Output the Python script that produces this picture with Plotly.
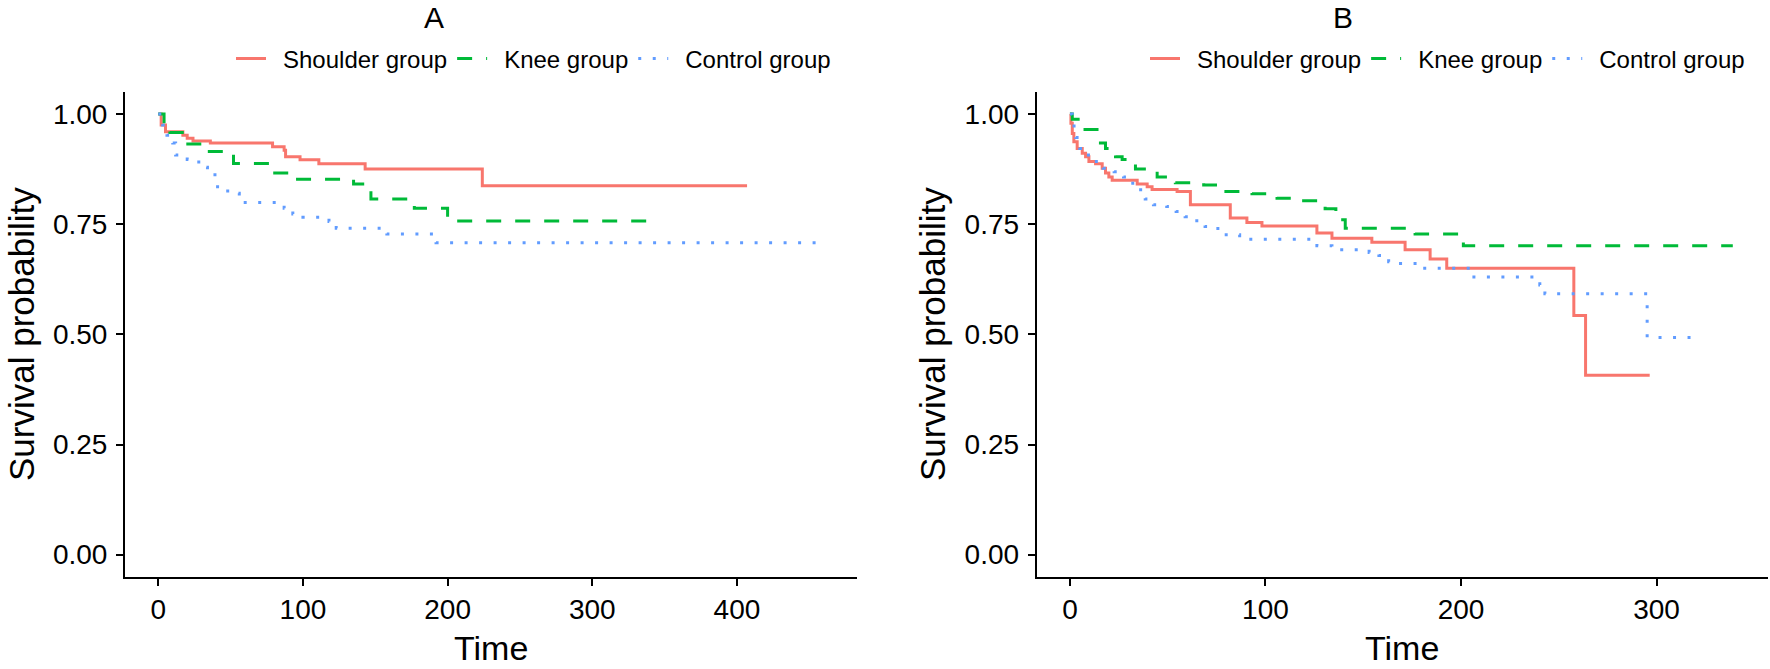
import plotly.graph_objects as go

W, H = 1770, 669

# ---------------- Panel A data ----------------
a_shoulder_time = [0, 2, 5, 17, 20, 24, 36, 79, 87, 88, 98, 111, 143, 224, 407]
a_shoulder_surv = [1.0, 0.975, 0.960, 0.952, 0.945, 0.939, 0.934, 0.926, 0.918, 0.903, 0.896, 0.887, 0.875, 0.837, 0.837]

a_knee_time = [0, 4, 8, 19, 33, 52, 79, 95, 135, 147, 177, 200, 338]
a_knee_surv = [1.0, 0.979, 0.958, 0.932, 0.915, 0.888, 0.866, 0.852, 0.841, 0.807, 0.786, 0.757, 0.757]

a_control_time = [0, 3, 6, 10, 12, 20, 28, 34, 41, 48, 56, 87, 93, 100, 118, 123, 158, 192, 455]
a_control_surv = [1.0, 0.975, 0.952, 0.934, 0.907, 0.897, 0.879, 0.862, 0.835, 0.820, 0.799, 0.786, 0.773, 0.766, 0.756, 0.741, 0.728, 0.708, 0.708]

# ---------------- Panel B data ----------------
b_shoulder_time = [0, 0.5, 1.2, 2, 3.7, 6.3, 8, 9.7, 13.1, 16.5, 18.2, 19.9, 21.6, 34.4, 39.5, 42, 54.8,
                   61.6, 82, 90.5, 98.2, 126.3, 134, 154.4, 171.4, 184.2, 192.7, 257.7, 263.7, 296.5]
b_shoulder_surv = [1.0, 0.979, 0.956, 0.937, 0.922, 0.911, 0.903, 0.892, 0.887, 0.877, 0.866, 0.857, 0.850,
                   0.841, 0.835, 0.829, 0.824, 0.794, 0.764, 0.754, 0.746, 0.730, 0.718, 0.709, 0.692, 0.671,
                   0.650, 0.543, 0.407, 0.407]

b_knee_time = [0, 1.2, 6.3, 15.6, 18.2, 23.3, 26.7, 33.5, 44.6, 53.9, 68.4, 78.6, 93.1, 105.9, 118.6,
               130.5, 136, 140.8, 176.5, 201.2, 339]
b_knee_surv = [1.0, 0.988, 0.965, 0.934, 0.922, 0.903, 0.897, 0.875, 0.857, 0.844, 0.839, 0.824, 0.819,
               0.809, 0.803, 0.785, 0.760, 0.741, 0.728, 0.701, 0.701]

b_control_time = [0, 1.2, 3, 5, 8.5, 12, 17, 22.6, 27.4, 30.8, 34.2, 38.5, 42.7, 49.5, 54.3, 58.9, 64,
                  69.1, 74.2, 79, 86.8, 126.3, 134, 153, 158, 163, 168, 178, 206.6, 240.3, 242.9, 295.2, 317.8]
b_control_surv = [1.0, 0.973, 0.947, 0.922, 0.907, 0.892, 0.877, 0.869, 0.857, 0.843, 0.828, 0.807, 0.794,
                  0.790, 0.779, 0.767, 0.758, 0.745, 0.740, 0.726, 0.716, 0.701, 0.692, 0.686, 0.679, 0.665,
                  0.661, 0.650, 0.630, 0.612, 0.592, 0.493, 0.493]

group_names = ["Shoulder group", "Knee group", "Control group"]
group_colors = ["#F8766D", "#00BA38", "#619CFF"]
group_dashes = ["solid", "15px,14px", "3px,11.5px"]

y_ticks = [0, 0.25, 0.5, 0.75, 1.0]
y_ticktext = ["0.00", "0.25", "0.50", "0.75", "1.00"]
a_xticks = [0, 100, 200, 300, 400]
b_xticks = [0, 100, 200, 300]

FONT = "Liberation Sans, Arial, sans-serif"

fig = go.Figure()

panels = [
    ("x", "y", "legend", [(a_shoulder_time, a_shoulder_surv), (a_knee_time, a_knee_surv), (a_control_time, a_control_surv)]),
    ("x2", "y2", "legend2", [(b_shoulder_time, b_shoulder_surv), (b_knee_time, b_knee_surv), (b_control_time, b_control_surv)]),
]
for xa, ya, lg, series in panels:
    for (t, s), name, col, dash in zip(series, group_names, group_colors, group_dashes):
        fig.add_trace(go.Scatter(
            x=t, y=s, mode="lines", name="\u2002" + name, xaxis=xa, yaxis=ya, legend=lg,
            line=dict(color=col, width=3, dash=dash, shape="hv"),
            hoverinfo="skip",
        ))

ydom = [1 - 576.7 / H, 1 - 92 / H]
axis_common = dict(
    showline=True, linecolor="black", linewidth=2, ticks="outside", ticklen=7, tickwidth=2,
    tickcolor="black", showgrid=False, zeroline=False, tickfont=dict(family=FONT, size=28, color="black"),
)

fig.update_layout(
    width=W, height=H,
    margin=dict(l=0, r=0, t=0, b=0),
    paper_bgcolor="white", plot_bgcolor="white",
    font=dict(family=FONT, color="black"),
    xaxis=dict(domain=[125 / W, 857 / W], range=[-23, 483], tickvals=a_xticks, anchor="y", **axis_common),
    yaxis=dict(domain=ydom, range=[-0.05, 1.05], tickvals=y_ticks, ticktext=y_ticktext, anchor="x",
               ticklabelstandoff=3, **axis_common),
    xaxis2=dict(domain=[1036.7 / W, 1768 / W], range=[-17, 357], tickvals=b_xticks, anchor="y2", **axis_common),
    yaxis2=dict(domain=ydom, range=[-0.05, 1.05], tickvals=y_ticks, ticktext=y_ticktext, anchor="x2",
                ticklabelstandoff=3, **axis_common),
    legend=dict(orientation="h", x=836 / W, xanchor="right", y=1 - 59 / H, yanchor="middle",
                font=dict(family=FONT, size=24, color="black"), bgcolor="rgba(0,0,0,0)", itemwidth=30),
    legend2=dict(orientation="h", x=1750 / W, xanchor="right", y=1 - 59 / H, yanchor="middle",
                 font=dict(family=FONT, size=24, color="black"), bgcolor="rgba(0,0,0,0)", itemwidth=30),
    showlegend=True,
)

annos = [
    dict(text="A", x=434 / W, y=1 - 17 / H, size=30, angle=0),
    dict(text="B", x=1343 / W, y=1 - 17 / H, size=30, angle=0),
    dict(text="Time", x=491 / W, y=1 - 648 / H, size=34, angle=0),
    dict(text="Time", x=1402 / W, y=1 - 648 / H, size=34, angle=0),
    dict(text="Survival probability", x=21 / W, y=1 - 334 / H, size=35, angle=-90),
    dict(text="Survival probability", x=932 / W, y=1 - 334 / H, size=35, angle=-90),
]
for a in annos:
    fig.add_annotation(text=a["text"], x=a["x"], y=a["y"], xref="paper", yref="paper",
                       xanchor="center", yanchor="middle", showarrow=False, textangle=a["angle"],
                       font=dict(family=FONT, size=a["size"], color="black"))

fig.write_html(
    "out.html",
    config={"displayModeBar": False},
    post_script="document.body.style.margin='0px';document.body.style.padding='0px';"
                "document.body.style.overflow='hidden';",
)
